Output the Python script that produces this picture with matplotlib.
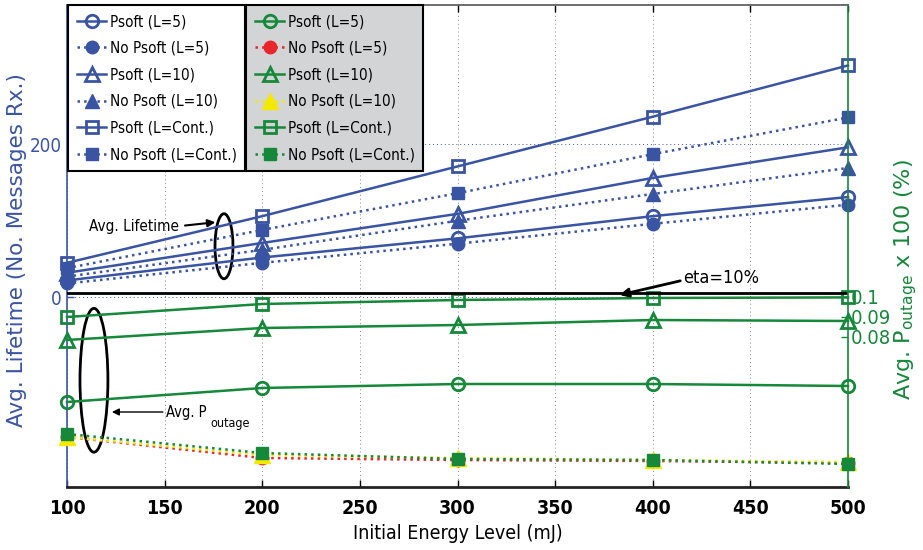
import matplotlib
matplotlib.use("Agg")
import matplotlib.pyplot as plt
from matplotlib.patches import Ellipse

BLUE = "#3a54a4"
GREEN = "#16883a"
RED = "#e8262b"
YELLOW = "#f4ea00"
NARROW = dict(family="DejaVu Sans", stretch="condensed")

energy = [100, 200, 300, 400, 500]

# average lifetime (no. of messages received)
life_psoft_l5 = [22, 52, 77, 106, 131]
life_nopsoft_l5 = [18, 45, 70, 96, 121]
life_psoft_l10 = [32, 71, 109, 156, 196]
life_nopsoft_l10 = [27, 62, 100, 135, 169]
life_psoft_cont = [45, 106, 171, 236, 303]
life_nopsoft_cont = [38, 88, 136, 187, 235]

# average outage probability
pout_psoft_l5 = [0.0475, 0.0545, 0.0565, 0.0565, 0.0555]
pout_nopsoft_l5 = [0.0300, 0.0195, 0.0185, 0.0180, 0.0170]
pout_psoft_l10 = [0.0785, 0.0845, 0.0860, 0.0885, 0.0880]
pout_nopsoft_l10 = [0.0300, 0.0210, 0.0195, 0.0185, 0.0175]
pout_psoft_cont = [0.0900, 0.0965, 0.0985, 0.0995, 0.0998]
pout_nopsoft_cont = [0.0315, 0.0220, 0.0190, 0.0185, 0.0165]
eta_level = 0.1022

xticks = list(range(100, 501, 50))

fig = plt.figure(figsize=(9.23, 5.5), dpi=100)
ax = fig.add_axes([67 / 923, 1 - 487 / 550, 781 / 923, 482 / 550])
ax2 = ax.twinx()

lw = 1.8
# lifetime curves (left axis)
ax.plot(energy, life_psoft_l5, "-", color=BLUE, lw=lw, marker="o", ms=9, mfc="none", mew=2,
        clip_on=False, label="Psoft (L=5)")
ax.plot(energy, life_nopsoft_l5, ":", color=BLUE, lw=lw, marker="o", ms=9, mfc=BLUE,
        clip_on=False, label="No Psoft (L=5)")
ax.plot(energy, life_psoft_l10, "-", color=BLUE, lw=lw, marker="^", ms=10, mfc="none", mew=2,
        clip_on=False, label="Psoft (L=10)")
ax.plot(energy, life_nopsoft_l10, ":", color=BLUE, lw=lw, marker="^", ms=10, mfc=BLUE,
        clip_on=False, label="No Psoft (L=10)")
ax.plot(energy, life_psoft_cont, "-", color=BLUE, lw=lw, marker="s", ms=8, mfc="none", mew=2,
        clip_on=False, label="Psoft (L=Cont.)")
ax.plot(energy, life_nopsoft_cont, ":", color=BLUE, lw=lw, marker="s", ms=8, mfc=BLUE,
        clip_on=False, label="No Psoft (L=Cont.)")

# outage curves (right axis)
ax2.plot(energy, pout_psoft_l5, "-", color=GREEN, lw=lw, marker="o", ms=9, mfc="none", mew=2,
         clip_on=False, label="Psoft (L=5)")
ax2.plot(energy, pout_nopsoft_l5, ":", color=RED, lw=lw, marker="o", ms=9, mfc=RED, mec=RED,
         clip_on=False, label="No Psoft (L=5)")
ax2.plot(energy, pout_psoft_l10, "-", color=GREEN, lw=lw, marker="^", ms=10, mfc="none", mew=2,
         clip_on=False, label="Psoft (L=10)")
ax2.plot(energy, pout_nopsoft_l10, ":", color=YELLOW, lw=lw, marker="^", ms=12, mfc=YELLOW, mec=YELLOW,
         clip_on=False, label="No Psoft (L=10)")
ax2.plot(energy, pout_psoft_cont, "-", color=GREEN, lw=lw, marker="s", ms=8, mfc="none", mew=2,
         clip_on=False, label="Psoft (L=Cont.)")
ax2.plot(energy, pout_nopsoft_cont, ":", color=GREEN, lw=lw, marker="s", ms=8, mfc=GREEN,
         clip_on=False, label="No Psoft (L=Cont.)")
ax2.axhline(eta_level, color="black", lw=2)

# axes limits / ticks
ax.set_xlim(100, 500)
ax.set_ylim(-248, 382)
ax2.set_ylim(0.005, 0.246)
ax.set_xticks(xticks)
ax.set_xticklabels([str(v) for v in xticks], fontweight="bold", fontsize=14, **NARROW)
ax.set_yticks([0, 200])
ax.set_yticklabels(["0", "200"], fontsize=13.5, color=BLUE, **NARROW)
ax2.set_yticks([0.08, 0.09, 0.1])
ax2.set_yticklabels(["0.08", "0.09", "0.1"], fontsize=14.5, color=GREEN, **NARROW)
ax.tick_params(axis="x", direction="in", top=True, length=5, width=1, pad=9)
ax.tick_params(axis="y", direction="in", length=5, width=1, colors=BLUE, pad=4)
ax2.tick_params(axis="y", direction="in", length=5, width=1, colors=GREEN, pad=2)

ax.xaxis.grid(True, linestyle=(0, (1, 3)), color="#888888", lw=0.7)
ax.yaxis.grid(True, linestyle=(0, (1, 3)), color=BLUE, lw=0.7)

for s in ("left", "top", "bottom"):
    ax2.spines[s].set_visible(False)
ax.spines["right"].set_visible(False)
ax.spines["left"].set_color(BLUE)
ax.spines["left"].set_linewidth(1.2)
ax2.spines["right"].set_color(GREEN)
ax2.spines["right"].set_linewidth(1.2)
ax.spines["bottom"].set_color("#222222")
ax.spines["bottom"].set_linewidth(2)
ax.spines["top"].set_color("#555555")
ax.spines["top"].set_linewidth(1.2)

ax.set_xlabel("Initial Energy Level (mJ)", fontsize=14, labelpad=4, **NARROW)
fig.text(17 / 923, 1 - 250 / 550, "Avg. Lifetime (No. Messages Rx.)", rotation=90,
         ha="center", va="center", color=BLUE, fontsize=15.5)
fig.text(906 / 923, 1 - 280 / 550, r"Avg. P$_{\mathrm{outage}}$ x 100 (%)", rotation=90,
         ha="center", va="center", color=GREEN, fontsize=16)

# annotations
ax.add_patch(Ellipse((180.4, 66.7), 9.2, 85, fill=False, ec="black", lw=2))
ax.annotate("Avg. Lifetime", xy=(176, 98), xytext=(111.5, 93), fontsize=11,
            ha="left", va="center",
            arrowprops=dict(arrowstyle="-|>", color="black", lw=1.5, shrinkA=2, shrinkB=0,
                            relpos=(1, 0.5)), **NARROW)
ax.add_patch(Ellipse((113.8, -108.5), 14.3, 188, fill=False, ec="black", lw=2))
ax2.annotate("Avg. P", xy=(123, 0.0425), xytext=(150.5, 0.0425), fontsize=10.5,
             ha="left", va="center",
             arrowprops=dict(arrowstyle="-|>", color="black", lw=1, shrinkA=0, shrinkB=0,
                             relpos=(0, 0.5)), **NARROW)
ax2.text(173.5, 0.0365, "outage", fontsize=9, ha="left", va="center", **NARROW)
ax2.annotate("eta=10%", xy=(383, 0.101), xytext=(415.5, 0.1093), fontsize=13,
             ha="left", va="center",
             arrowprops=dict(arrowstyle="-|>", color="black", lw=2, shrinkA=0, shrinkB=0,
                             relpos=(0, 0.4)), **NARROW)

# legends
leg_kw = dict(loc="upper left", mode="expand", bbox_transform=fig.transFigure, borderaxespad=0,
              prop=dict(size=11, **NARROW), handlelength=1.9, handletextpad=0.26,
              labelspacing=0.76, borderpad=0.6, fancybox=False, framealpha=1)
leg1 = ax2.legend(ax.get_lines()[:6], [l.get_label() for l in ax.get_lines()[:6]],
                  bbox_to_anchor=(68 / 923, 1 - 5 / 550, 177 / 923, 0), **leg_kw)
leg1.get_frame().set_edgecolor("black")
leg1.get_frame().set_linewidth(1.5)
ax2.add_artist(leg1)
green_lines = ax2.get_lines()[:6]
leg2 = ax2.legend(green_lines, [l.get_label() for l in green_lines],
                  bbox_to_anchor=(246 / 923, 1 - 5 / 550, 177 / 923, 0), **leg_kw)
leg2.get_frame().set_edgecolor("black")
leg2.get_frame().set_linewidth(1.5)
leg2.get_frame().set_facecolor("#d3d4d6")

fig.savefig("out.png", dpi=100)
